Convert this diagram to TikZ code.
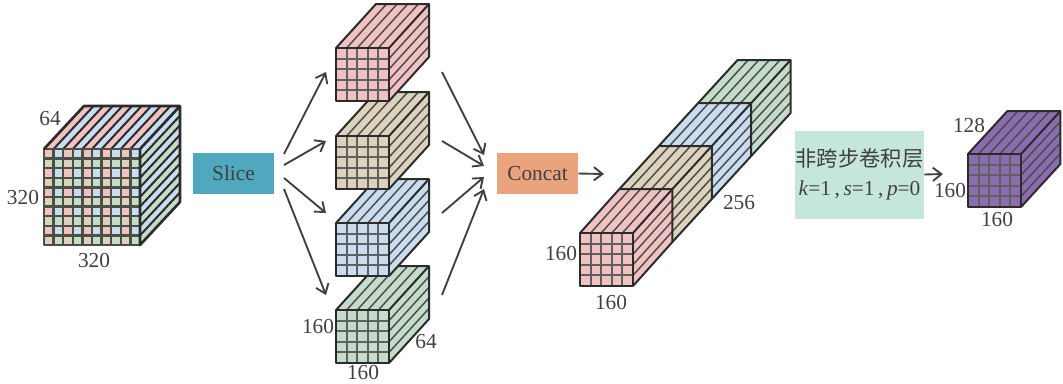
\documentclass[tikz,border=0pt]{standalone}
\usepackage{fontspec}
\setmainfont{Liberation Serif}
\newfontfamily\cjkfont{Noto Sans CJK SC}
\usetikzlibrary{arrows.meta}

\definecolor{pinkc}{HTML}{F2C2C2}
\definecolor{tanc}{HTML}{DDD2BC}
\definecolor{bluec}{HTML}{C9DCF0}
\definecolor{greenc}{HTML}{C6DCCB}
\definecolor{purplec}{HTML}{8A6DAE}
\definecolor{slicec}{HTML}{4FA8BE}
\definecolor{concatc}{HTML}{E9A47D}
\definecolor{convc}{HTML}{C5E6DA}
\definecolor{inkc}{HTML}{404040}
\definecolor{edgec}{HTML}{2B2B2B}
\definecolor{cellc}{HTML}{4A5044}

\tikzset{
  every node/.style={font=\fontsize{16}{19}\selectfont, text=inkc},
  opbox/.style={inner sep=0pt, align=center},
  edgeline/.style={edgec, line width=1.5pt, line join=round},
  gridline/.style={edgec!75, line width=1.4pt},
  slantline/.style={edgec!85, line width=1.1pt},
  flow/.style={-{Straight Barb[length=6.5pt,width=10pt,line width=1.4pt]}, inkc, line width=1.4pt}
}

% top and side of one segment: front-top-left corner, depth dx dy, colour
\newcommand{\segment}[5]{
  \fill[#5] (#1,#2) -- ++(#3,#4) -- ++(53,0) -- ++(0,53) -- ++(-#3,-#4) -- ++(-53,0) -- cycle;
  \foreach \i in {1,...,4} {
    \draw[slantline] (#1+10.6*\i,#2) -- ++(#3,#4);
    \draw[slantline] (#1+53,#2+10.6*\i) -- ++(#3,#4);
  }
  \draw[edgeline] (#1,#2) -- ++(#3,#4) -- ++(53,0) -- ++(0,53) -- ++(-#3,-#4);
  \draw[edgeline] (#1+53,#2) -- ++(#3,#4);
}
% front face with the five by five grid
\newcommand{\frontgrid}[3]{
  \fill[#3] (#1,#2) rectangle ++(53,53);
  \foreach \i in {1,...,4} {
    \draw[gridline] (#1+10.6*\i,#2) -- ++(0,53);
    \draw[gridline] (#1,#2+10.6*\i) -- ++(53,0);
  }
  \draw[edgeline] (#1,#2) rectangle ++(53,53);
}

\begin{document}
\begin{tikzpicture}[x=0.75pt, y=-0.75pt]
  \useasboundingbox (0,0) rectangle (1063,383);

  % Input cube
  \foreach \i [evaluate=\i as \xa using 44+9.6*\i] in {0,...,9} {
    \pgfmathsetmacro{\topc}{isodd(\i) ? "bluec" : "pinkc"}
    \fill[\topc] (\xa,149) -- ++(40,-43) -- ++(9.6,0) -- ++(-40,43) -- cycle;
    \pgfmathsetmacro{\sidec}{isodd(\i) ? "greenc" : "bluec"}
    \fill[\sidec] (140,149+9.6*\i) -- ++(40,-43) -- ++(0,9.6) -- ++(-40,43) -- cycle;
    \foreach \j in {0,...,9} {
      \pgfmathsetmacro{\facec}{isodd(\j) ? (isodd(\i) ? "greenc" : "tanc") : (isodd(\i) ? "bluec" : "pinkc")}
      \fill[\facec] (\xa,149+9.6*\j) rectangle ++(9.6,9.6);
    }
  }
  \foreach \i in {1,...,9} {
    \draw[edgec, line width=1.5pt] (44+9.6*\i,149) -- ++(40,-43);
    \draw[edgec, line width=1.5pt] (140,149+9.6*\i) -- ++(40,-43);
    \draw[cellc, line width=1.8pt] (44+9.6*\i,149) -- ++(0,96);
    \draw[cellc, line width=1.8pt] (44,149+9.6*\i) -- ++(96,0);
  }
  \draw[cellc, line width=2pt, line join=round] (44,149) rectangle (140,245);
  \draw[edgec, line width=2pt, line join=round] (44,149) -- (84,106) -- (180,106) -- (180,202) -- (140,245) -- (140,149) -- (180,106);

  \node at (50,119) {64};
  \node at (23,198) {320};
  \node at (94,261) {320};

  % Sliced blocks
  \foreach \y/\c in {266/greenc, 179/bluec, 92/tanc, 4/pinkc} {
    \segment{336}{\y+44}{40}{-44}{\c}
    \frontgrid{336}{\y+44}{\c}
  }
  \node at (318,327) {160};
  \node at (363,373) {160};
  \node at (426,342) {64};

  % Concatenated block
  \segment{698.2}{103}{39.4}{-43}{greenc}
  \segment{658.8}{146}{39.4}{-43}{bluec}
  \segment{619.4}{189}{39.4}{-43}{tanc}
  \segment{580}{233}{39.4}{-44}{pinkc}
  \frontgrid{580}{233}{pinkc}
  \node at (739,203) {256};
  \node at (561,254) {160};
  \node at (611,303) {160};

  % Output block
  \segment{968}{154}{39.4}{-43}{purplec}
  \frontgrid{968}{154}{purplec}
  \node at (969,126) {128};
  \node at (950,191) {160};
  \node at (997,220) {160};

  % Operations
  \node[opbox, fill=slicec, minimum width=60.75pt, minimum height=30.75pt] (slice) at (233.5,173.5) {Slice};
  \node[opbox, fill=concatc, minimum width=60.75pt, minimum height=30.75pt] (concat) at (537.5,173.5) {Concat};
  \node[opbox, fill=convc, minimum width=96.75pt, minimum height=66pt] (conv) at (859.5,174.5) {{\cjkfont 非跨步卷积层}\\[3pt]\textit{k}=1\,,\,\textit{s}=1\,,\,\textit{p}=0};

  % Arrows
  \coordinate (sa) at (284,154);
  \coordinate (sb) at (284,165);
  \coordinate (sc) at (284,178);
  \coordinate (sd) at (284,189);
  \coordinate (ina) at (326,72);
  \coordinate (inb) at (326,141);
  \coordinate (inc) at (326,213);
  \coordinate (ind) at (326,295);
  \coordinate (outa) at (442,72);
  \coordinate (outb) at (442,141);
  \coordinate (outc) at (442,213);
  \coordinate (outd) at (442,295);
  \coordinate (ca) at (484,155);
  \coordinate (cb) at (484,166);
  \coordinate (cc) at (484,177);
  \coordinate (cd) at (484,189);
  \coordinate (blockin) at (604,174);
  \coordinate (lastin) at (943,174);
  \foreach \a/\b in {sa/ina, sb/inb, sc/inc, sd/ind, outa/ca, outb/cb, outc/cc, outd/cd} {
    \draw[flow] (\a) -- (\b);
  }
  \draw[flow] (concat.east) -- (blockin);
  \draw[flow] (conv.east) -- (lastin);
\end{tikzpicture}
\end{document}
